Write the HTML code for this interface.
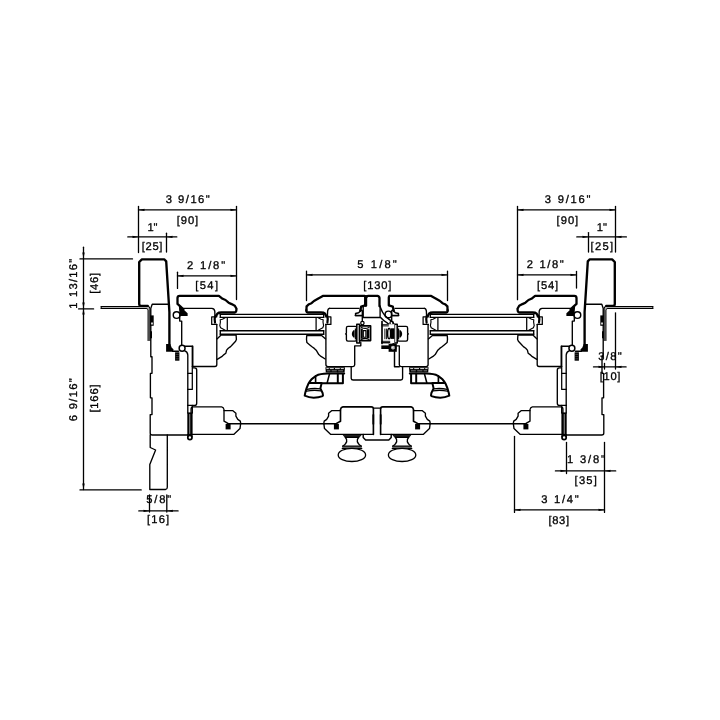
<!DOCTYPE html><html><head><meta charset="utf-8"><style>html,body{margin:0;padding:0;background:#fff;}svg{display:block;will-change:transform;} .t{text-rendering:geometricPrecision;}</style></head><body><svg width="720" height="720" viewBox="0 0 720 720" stroke-linecap="round" stroke-linejoin="round"><rect x="0" y="0" width="720" height="720" fill="#fff"/><g><path d="M 101.4 307.5 L 147 307.5 Q 149 307.6 149 309.6 L 149 340.5" stroke="#aaa" stroke-width="1.00" fill="none"/><path d="M 101.2 306.5 L 147.8 306.5 Q 149.9 306.6 149.9 308.8 L 149.9 340.5" stroke="#000" stroke-width="1.10" fill="none"/><path d="M 101.2 308.5 L 146.4 308.5 Q 148.1 308.6 148.1 310.2 L 148.1 340.5" stroke="#000" stroke-width="1.10" fill="none"/><path d="M 101.2 306.5 L 101.2 308.5" stroke="#000" stroke-width="1.10" fill="none"/><path d="M 147.8 305.9 L 141 305.9 Q 139.2 305.9 139.2 304 L 139.2 262 L 141.9 259.3 L 164.2 259.3 L 166.2 261.4 L 169.4 312 L 169.4 344.4" stroke="#000" stroke-width="2.35" fill="none"/><path d="M 168.4 304.2 L 152.2 304.2 L 150.8 308.4 L 150.8 356.7 L 152 356.7 L 152 373.3 L 150.4 373.3 L 150.4 397.8 L 152 397.8 L 152 414.6 L 150.2 414.6 L 150.2 433 Q 150.2 435 152.2 435 L 187.8 435" stroke="#000" stroke-width="1.35" fill="none"/><path d="M 150.2 315.4 L 153.7 315.4 L 153.7 325.8 L 150.2 325.8 Z" stroke="none" fill="#000"/><path d="M 151.2 322.6 L 152.8 322.6 L 152.8 324.4 L 151.2 324.4 Z" stroke="none" fill="#fff"/><path d="M 150.2 331.2 L 152 331.2 L 152 338.2 L 150.2 338.2 Z" stroke="none" fill="#000"/><path d="M 166.1 344 L 170.4 344 L 171.6 347.6 L 173.6 349.6 L 173 351.8 L 166.1 351.8 Z" stroke="none" fill="#000"/><path d="M 172.6 351.2 L 178.6 351.2" stroke="#000" stroke-width="1.35" fill="none"/><path d="M 184.4 350.6 Q 187.6 351.6 187.8 355 L 187.8 405.4" stroke="#000" stroke-width="1.35" fill="none"/><path d="M 175.1 352.3 L 179.4 352.3 L 179.4 360.7 L 175.1 360.7 Z" stroke="none" fill="#000"/><path d="M 176.1 354.4 L 178.4 354.4 M 176.1 356.6 L 178.4 356.6 M 176.1 358.8 L 178.4 358.8" stroke="#777" stroke-width="0.50" fill="none"/><path d="M 184.6 346.2 L 192.8 346.2 L 192.8 366.6" stroke="#000" stroke-width="1.35" fill="none"/><path d="M 192.8 367.9 L 194.5 367.9 Q 196.7 367.9 196.7 370.1 L 196.7 403.2 Q 196.7 405.4 194.5 405.4 L 187.8 405.4" stroke="#000" stroke-width="1.35" fill="none"/><path d="M 187.8 373.3 L 192.3 373.3 L 192.3 389.4 L 187.8 389.4" stroke="#000" stroke-width="1.25" fill="none"/><path d="M 192.3 366.6 L 192.3 373.3" stroke="#000" stroke-width="1.25" fill="none"/><path d="M 187.8 405.4 L 187.8 413 M 192.3 405.4 L 192.3 413" stroke="#000" stroke-width="1.35" fill="none"/><path d="M 187.3 412.4 L 192.6 412.4 L 192.6 437 L 187.3 437 Z" stroke="none" fill="#000"/><path d="M 189.95 414.5 L 189.95 433.5" stroke="#fff" stroke-width="0.80" fill="none"/><circle cx="189.9" cy="437.4" r="2.1" stroke="#000" stroke-width="1.75" fill="#fff"/><circle cx="176.6" cy="315.0" r="3.35" stroke="#000" stroke-width="1.45" fill="#fff"/><path d="M 183.4 309.4 L 180 306.1 L 177.5 303.9 L 177.5 298 Q 177.5 295.8 179.7 295.8 L 218.9 295.8 L 222.6 298.8 L 225.5 300 L 228.6 302.7 L 231.6 304.1 L 234.8 305.8 L 236.5 308.8 L 236.2 311.2 Q 235.8 312.5 234.8 312.5 L 221.4 312.5 Q 218.6 312.5 217.4 313.6 L 216.2 316" stroke="#000" stroke-width="2.30" fill="none"/><path d="M 178.8 305.2 L 181.5 307.6 L 187.6 313.2 L 187.6 315.9 L 179.6 315.9 Z" stroke="none" fill="#000"/><path d="M 179.7 315.8 L 179.7 321.1 L 181.7 321.1 L 181.7 344.8" stroke="#000" stroke-width="1.35" fill="none"/><path d="M 183.2 308.3 L 211.8 308.3 Q 214.6 308.5 214.8 311.4 L 214.9 314.6" stroke="#000" stroke-width="1.35" fill="none"/><path d="M 216.8 316.8 L 211.7 316.8 L 211.7 324.4 L 216.8 324.4" stroke="#000" stroke-width="1.25" fill="none"/><path d="M 215.2 315.6 Q 214.2 319 215 322.6" stroke="#000" stroke-width="2.20" fill="none"/><path d="M 216.8 324.4 L 216.8 364.6 Q 216.8 366.5 214.9 366.5 L 192.3 366.5 L 192.3 346.2" stroke="#000" stroke-width="1.35" fill="none"/><path d="M 217 338.9 L 221.1 335.1 L 236.1 335.1 L 236.4 339.5 L 235.6 341.3 L 232.8 344.2 L 230.6 346.6 L 228.3 348.2 L 226.6 350.1 L 225.8 353.3 L 224 354.6 L 221.7 356.7 L 217.2 359.3" stroke="#000" stroke-width="1.35" fill="none"/><circle cx="182.1" cy="348.3" r="2.95" stroke="#000" stroke-width="1.5" fill="#fff"/><path d="M 220.3 314.3 L 220.3 317.3 M 220.3 330.7 L 220.3 334.2" stroke="#000" stroke-width="1.35" fill="none"/><path d="M 225.6 317.6 L 222.4 319.2 L 220.2 319.8 L 220.4 322 L 219.8 325.6 L 220.6 327.8 L 223.4 329.2 L 225.6 330.4" stroke="#000" stroke-width="1.15" fill="none"/><path d="M 227.3 317.6 L 227.3 330.4" stroke="#000" stroke-width="1.25" fill="none"/><path d="M 306.4 310.2 L 306.6 306.4 L 309 304.2 L 311.5 303.2 L 314 301 L 317 299.3 L 323.3 295.8 L 364.4 295.8 Q 365.2 296.1 365.2 297.6 L 365.2 305.3 L 361.2 306.6 L 360.2 310.8" stroke="#000" stroke-width="2.30" fill="none"/><path d="M 306.4 310.2 L 306.4 311.3 Q 306.6 312.5 307.6 312.5 L 321 312.5 Q 323.8 312.5 325 313.6 L 326.2 316" stroke="#000" stroke-width="2.30" fill="none"/><path d="M 361.6 310 L 358.6 312.8 L 355.6 313.6 L 355.6 315.5 L 362.4 315.5 L 362.4 310.8" stroke="#000" stroke-width="1.55" fill="none"/><path d="M 329.6 308.3 L 359 308.3" stroke="#000" stroke-width="1.35" fill="none"/><path d="M 329.6 308.3 Q 327.8 308.5 327.6 311.4 L 327.5 314.6" stroke="#000" stroke-width="1.35" fill="none"/><path d="M 325.6 316.8 L 330.9 316.8 L 330.9 324.4 L 325.6 324.4" stroke="#000" stroke-width="1.25" fill="none"/><path d="M 327.2 315.6 Q 328.2 319 327.4 322.6" stroke="#000" stroke-width="2.20" fill="none"/><path d="M 325.9 324.4 L 325.9 364.6 Q 325.9 366.6 327.9 366.6 L 352.9 366.6 Q 354.7 366.6 354.7 364.8 L 354.7 345.8 L 360.8 345.8 L 360.8 342.4" stroke="#000" stroke-width="1.35" fill="none"/><path d="M 325.6 338.9 L 321.6 335.6 L 306.7 335.6 L 306.5 339.5 L 306.9 342.6 L 309.8 345 L 312 346.8 L 314.3 348.4 L 316.2 350.2 L 317.2 351.8 L 318.8 354.6 L 321 356.4 L 325.2 359" stroke="#000" stroke-width="1.35" fill="none"/><path d="M 355.2 315.6 L 362.3 315.6 L 362.3 321.2" stroke="#000" stroke-width="1.35" fill="none"/><circle cx="362.4" cy="323.1" r="1.7" stroke="#000" stroke-width="1.25" fill="#fff"/><path d="M 323.7 314.3 L 323.7 317.3 M 323.7 330.7 L 323.7 334.2" stroke="#000" stroke-width="1.35" fill="none"/><path d="M 317.8 317.6 L 321 319.2 L 323.2 319.8 L 323 322 L 323.6 325.6 L 322.8 327.8 L 320 329.2 L 317.8 330.4" stroke="#000" stroke-width="1.15" fill="none"/><path d="M 316.1 317.6 L 316.1 330.4" stroke="#000" stroke-width="1.25" fill="none"/><path d="M 347.9 326.4 L 355.2 326.4 Q 356.7 326.4 356.7 327.9 L 356.7 339.6 Q 356.7 341.1 355.2 341.1 L 347.9 341.1 Q 346.4 341.1 346.4 339.6 L 346.4 334.6 L 345.6 333.9 L 346.4 333.2 L 346.4 327.9 Q 346.4 326.4 347.9 326.4 Z" stroke="#000" stroke-width="1.35" fill="#fff"/><path d="M 353.4 330.2 Q 350.2 333.9 353.4 337.6 L 354.6 337.6 L 354.6 330.2 Z" stroke="none" fill="#000"/><path d="M 355.4 328.8 L 355.4 339" stroke="#000" stroke-width="1.15" fill="none"/><rect x="356.8" y="324.3" width="2.8" height="18.8" rx="0" stroke="#000" stroke-width="1.5499999999999998" fill="#fff"/><path d="M 220.2 314.3 H 323.7 M 220.2 317.3 H 323.7 M 220.2 330.7 H 323.7 M 220.2 334.2 H 323.7" stroke="#000" stroke-width="1.35" fill="none"/><path d="M 325.4 367.2 L 345 367.2 L 344.6 372.4 L 325.8 372.4 Z" stroke="none" fill="#000"/><path d="M 326.8 368.6 L 328.4 368.6 M 330.2 368.6 L 333.4 368.6 M 335.4 368.6 L 339.4 368.6 M 341.2 368.6 L 343.4 368.6" stroke="#fff" stroke-width="0.90" fill="none"/><path d="M 327.4 370.8 L 330 370.8 M 332 370.8 L 336.4 370.8 M 338.6 370.8 L 342.6 370.8" stroke="#ccc" stroke-width="0.60" fill="none"/><path d="M 344.2 373.4 L 327.6 373.6 Q 320 373.8 316 375.8 Q 311 378.6 308.4 383.8 Q 306.4 388 305.2 393 L 304.7 395.7 Q 309 397.6 313.7 397.7 Q 318.5 397.6 322.6 396.1 L 323 395.3 L 322.6 393 L 320.4 388.4 L 321.6 383.2 L 342.9 383.2 L 342.9 373.4" stroke="#000" stroke-width="2.00" fill="#fff"/><path d="M 309.4 383 L 321.6 383" stroke="#000" stroke-width="1.95" fill="none"/><path d="M 315.6 375.9 L 315.6 383" stroke="#000" stroke-width="1.65" fill="none"/><path d="M 329.6 373.6 L 327.2 382.8" stroke="#000" stroke-width="1.55" fill="none"/><path d="M 337.8 373.4 L 337.8 382.8" stroke="#000" stroke-width="1.95" fill="none"/><path d="M 306.9 389.4 Q 313 388 320.5 388.9 M 306.5 391.2 Q 313 389.8 321.2 390.8" stroke="#000" stroke-width="1.35" fill="none"/><path d="M 191.1 434.4 L 191.1 409 Q 191.1 406.9 193.2 406.9 L 221.6 406.9 Q 223.6 407.2 224 409.5 L 224 421.2 L 228 423.4" stroke="#000" stroke-width="1.35" fill="none"/><path d="M 191.1 434.4 L 233.7 434.4 L 240 428.6 L 240.4 425.6 L 240.7 423.3 L 240.3 421.1 L 237.8 419.4 L 235.9 416.1 L 235.9 413.3 L 232.6 410.6 L 224 410.6" stroke="#000" stroke-width="1.35" fill="none"/><path d="M 225.6 423.9 L 230.6 423.9 L 230.6 429.4 L 225.6 429.4 Z" stroke="none" fill="#000"/><path d="M 227.6 423.7 L 240.4 423.7" stroke="#000" stroke-width="1.35" fill="none"/><path d="M 373.40 434.40 L 373.40 409.00 Q 373.40 406.90 371.30 406.90 L 342.90 406.90 Q 340.90 407.20 340.50 409.50 L 340.50 421.20 L 336.50 423.40" stroke="#000" stroke-width="1.65" fill="none"/><path d="M 373.40 434.40 L 330.80 434.40 L 324.50 428.60 L 324.10 425.60 L 323.80 423.30 L 324.20 421.10 L 326.70 419.40 L 328.60 416.10 L 328.60 413.30 L 331.90 410.60 L 340.50 410.60" stroke="#000" stroke-width="1.35" fill="none"/><path d="M 338.90 423.90 L 333.90 423.90 L 333.90 429.40 L 338.90 429.40 Z" stroke="none" fill="#000"/><path d="M 336.90 423.70 L 324.10 423.70" stroke="#000" stroke-width="1.35" fill="none"/><path d="M 240.4 423.7 L 324.2 423.8" stroke="#000" stroke-width="1.45" fill="none"/><path d="M 187.8 434.6 L 191.1 434.6" stroke="#000" stroke-width="1.35" fill="none"/><path d="M 342.1 434.3 L 362.4 434.3 L 358.8 437.9 L 345.2 437.9 Z" stroke="none" fill="#000"/><path d="M 344.2 435.9 L 360.2 435.9" stroke="#555" stroke-width="0.60" fill="none"/><path d="M 345.4 437.6 Q 349.2 441.4 342.8 446.3 M 358.6 437.6 Q 354.8 441.4 361.2 446.3" stroke="#000" stroke-width="1.45" fill="none"/><path d="M 342.6 446 L 361.4 446 L 361.8 448.4 L 342.2 448.4 Z" stroke="none" fill="#888"/><path d="M 342.6 446.1 L 361.4 446.1 M 342.2 448.3 L 361.8 448.3" stroke="#000" stroke-width="1.25" fill="none"/><ellipse cx="351.9" cy="454.9" rx="13.7" ry="6.6" stroke="#000" stroke-width="1.3" fill="#fff"/></g><g transform="matrix(-1 0 0 1 754.00 0)"><path d="M 101.4 307.5 L 147 307.5 Q 149 307.6 149 309.6 L 149 340.5" stroke="#aaa" stroke-width="1.00" fill="none"/><path d="M 101.2 306.5 L 147.8 306.5 Q 149.9 306.6 149.9 308.8 L 149.9 340.5" stroke="#000" stroke-width="1.10" fill="none"/><path d="M 101.2 308.5 L 146.4 308.5 Q 148.1 308.6 148.1 310.2 L 148.1 340.5" stroke="#000" stroke-width="1.10" fill="none"/><path d="M 101.2 306.5 L 101.2 308.5" stroke="#000" stroke-width="1.10" fill="none"/><path d="M 147.8 305.9 L 141 305.9 Q 139.2 305.9 139.2 304 L 139.2 262 L 141.9 259.3 L 164.2 259.3 L 166.2 261.4 L 169.4 312 L 169.4 344.4" stroke="#000" stroke-width="2.35" fill="none"/><path d="M 168.4 304.2 L 152.2 304.2 L 150.8 308.4 L 150.8 356.7 L 152 356.7 L 152 373.3 L 150.4 373.3 L 150.4 397.8 L 152 397.8 L 152 414.6 L 150.2 414.6 L 150.2 433 Q 150.2 435 152.2 435 L 187.8 435" stroke="#000" stroke-width="1.35" fill="none"/><path d="M 150.2 315.4 L 153.7 315.4 L 153.7 325.8 L 150.2 325.8 Z" stroke="none" fill="#000"/><path d="M 151.2 322.6 L 152.8 322.6 L 152.8 324.4 L 151.2 324.4 Z" stroke="none" fill="#fff"/><path d="M 150.2 331.2 L 152 331.2 L 152 338.2 L 150.2 338.2 Z" stroke="none" fill="#000"/><path d="M 166.1 344 L 170.4 344 L 171.6 347.6 L 173.6 349.6 L 173 351.8 L 166.1 351.8 Z" stroke="none" fill="#000"/><path d="M 172.6 351.2 L 178.6 351.2" stroke="#000" stroke-width="1.35" fill="none"/><path d="M 184.4 350.6 Q 187.6 351.6 187.8 355 L 187.8 405.4" stroke="#000" stroke-width="1.35" fill="none"/><path d="M 175.1 352.3 L 179.4 352.3 L 179.4 360.7 L 175.1 360.7 Z" stroke="none" fill="#000"/><path d="M 176.1 354.4 L 178.4 354.4 M 176.1 356.6 L 178.4 356.6 M 176.1 358.8 L 178.4 358.8" stroke="#777" stroke-width="0.50" fill="none"/><path d="M 184.6 346.2 L 192.8 346.2 L 192.8 366.6" stroke="#000" stroke-width="1.35" fill="none"/><path d="M 192.8 367.9 L 194.5 367.9 Q 196.7 367.9 196.7 370.1 L 196.7 403.2 Q 196.7 405.4 194.5 405.4 L 187.8 405.4" stroke="#000" stroke-width="1.35" fill="none"/><path d="M 187.8 373.3 L 192.3 373.3 L 192.3 389.4 L 187.8 389.4" stroke="#000" stroke-width="1.25" fill="none"/><path d="M 192.3 366.6 L 192.3 373.3" stroke="#000" stroke-width="1.25" fill="none"/><path d="M 187.8 405.4 L 187.8 413 M 192.3 405.4 L 192.3 413" stroke="#000" stroke-width="1.35" fill="none"/><path d="M 187.3 412.4 L 192.6 412.4 L 192.6 437 L 187.3 437 Z" stroke="none" fill="#000"/><path d="M 189.95 414.5 L 189.95 433.5" stroke="#fff" stroke-width="0.80" fill="none"/><circle cx="189.9" cy="437.4" r="2.1" stroke="#000" stroke-width="1.75" fill="#fff"/><circle cx="176.6" cy="315.0" r="3.35" stroke="#000" stroke-width="1.45" fill="#fff"/><path d="M 183.4 309.4 L 180 306.1 L 177.5 303.9 L 177.5 298 Q 177.5 295.8 179.7 295.8 L 218.9 295.8 L 222.6 298.8 L 225.5 300 L 228.6 302.7 L 231.6 304.1 L 234.8 305.8 L 236.5 308.8 L 236.2 311.2 Q 235.8 312.5 234.8 312.5 L 221.4 312.5 Q 218.6 312.5 217.4 313.6 L 216.2 316" stroke="#000" stroke-width="2.30" fill="none"/><path d="M 178.8 305.2 L 181.5 307.6 L 187.6 313.2 L 187.6 315.9 L 179.6 315.9 Z" stroke="none" fill="#000"/><path d="M 179.7 315.8 L 179.7 321.1 L 181.7 321.1 L 181.7 344.8" stroke="#000" stroke-width="1.35" fill="none"/><path d="M 183.2 308.3 L 211.8 308.3 Q 214.6 308.5 214.8 311.4 L 214.9 314.6" stroke="#000" stroke-width="1.35" fill="none"/><path d="M 216.8 316.8 L 211.7 316.8 L 211.7 324.4 L 216.8 324.4" stroke="#000" stroke-width="1.25" fill="none"/><path d="M 215.2 315.6 Q 214.2 319 215 322.6" stroke="#000" stroke-width="2.20" fill="none"/><path d="M 216.8 324.4 L 216.8 364.6 Q 216.8 366.5 214.9 366.5 L 192.3 366.5 L 192.3 346.2" stroke="#000" stroke-width="1.35" fill="none"/><path d="M 217 338.9 L 221.1 335.1 L 236.1 335.1 L 236.4 339.5 L 235.6 341.3 L 232.8 344.2 L 230.6 346.6 L 228.3 348.2 L 226.6 350.1 L 225.8 353.3 L 224 354.6 L 221.7 356.7 L 217.2 359.3" stroke="#000" stroke-width="1.35" fill="none"/><circle cx="182.1" cy="348.3" r="2.95" stroke="#000" stroke-width="1.5" fill="#fff"/><path d="M 220.3 314.3 L 220.3 317.3 M 220.3 330.7 L 220.3 334.2" stroke="#000" stroke-width="1.35" fill="none"/><path d="M 225.6 317.6 L 222.4 319.2 L 220.2 319.8 L 220.4 322 L 219.8 325.6 L 220.6 327.8 L 223.4 329.2 L 225.6 330.4" stroke="#000" stroke-width="1.15" fill="none"/><path d="M 227.3 317.6 L 227.3 330.4" stroke="#000" stroke-width="1.25" fill="none"/><path d="M 306.4 310.2 L 306.6 306.4 L 309 304.2 L 311.5 303.2 L 314 301 L 317 299.3 L 323.3 295.8 L 364.4 295.8 Q 365.2 296.1 365.2 297.6 L 365.2 305.3 L 361.2 306.6 L 360.2 310.8" stroke="#000" stroke-width="2.30" fill="none"/><path d="M 306.4 310.2 L 306.4 311.3 Q 306.6 312.5 307.6 312.5 L 321 312.5 Q 323.8 312.5 325 313.6 L 326.2 316" stroke="#000" stroke-width="2.30" fill="none"/><path d="M 361.6 310 L 358.6 312.8 L 355.6 313.6 L 355.6 315.5 L 362.4 315.5 L 362.4 310.8" stroke="#000" stroke-width="1.55" fill="none"/><path d="M 329.6 308.3 L 359 308.3" stroke="#000" stroke-width="1.35" fill="none"/><path d="M 329.6 308.3 Q 327.8 308.5 327.6 311.4 L 327.5 314.6" stroke="#000" stroke-width="1.35" fill="none"/><path d="M 325.6 316.8 L 330.9 316.8 L 330.9 324.4 L 325.6 324.4" stroke="#000" stroke-width="1.25" fill="none"/><path d="M 327.2 315.6 Q 328.2 319 327.4 322.6" stroke="#000" stroke-width="2.20" fill="none"/><path d="M 325.9 324.4 L 325.9 364.6 Q 325.9 366.6 327.9 366.6 L 352.9 366.6 Q 354.7 366.6 354.7 364.8 L 354.7 345.8 L 360.8 345.8 L 360.8 342.4" stroke="#000" stroke-width="1.35" fill="none"/><path d="M 325.6 338.9 L 321.6 335.6 L 306.7 335.6 L 306.5 339.5 L 306.9 342.6 L 309.8 345 L 312 346.8 L 314.3 348.4 L 316.2 350.2 L 317.2 351.8 L 318.8 354.6 L 321 356.4 L 325.2 359" stroke="#000" stroke-width="1.35" fill="none"/><path d="M 355.2 315.6 L 362.3 315.6 L 362.3 321.2" stroke="#000" stroke-width="1.35" fill="none"/><circle cx="362.4" cy="323.1" r="1.7" stroke="#000" stroke-width="1.25" fill="#fff"/><path d="M 323.7 314.3 L 323.7 317.3 M 323.7 330.7 L 323.7 334.2" stroke="#000" stroke-width="1.35" fill="none"/><path d="M 317.8 317.6 L 321 319.2 L 323.2 319.8 L 323 322 L 323.6 325.6 L 322.8 327.8 L 320 329.2 L 317.8 330.4" stroke="#000" stroke-width="1.15" fill="none"/><path d="M 316.1 317.6 L 316.1 330.4" stroke="#000" stroke-width="1.25" fill="none"/><path d="M 347.9 326.4 L 355.2 326.4 Q 356.7 326.4 356.7 327.9 L 356.7 339.6 Q 356.7 341.1 355.2 341.1 L 347.9 341.1 Q 346.4 341.1 346.4 339.6 L 346.4 334.6 L 345.6 333.9 L 346.4 333.2 L 346.4 327.9 Q 346.4 326.4 347.9 326.4 Z" stroke="#000" stroke-width="1.35" fill="#fff"/><path d="M 353.4 330.2 Q 350.2 333.9 353.4 337.6 L 354.6 337.6 L 354.6 330.2 Z" stroke="none" fill="#000"/><path d="M 355.4 328.8 L 355.4 339" stroke="#000" stroke-width="1.15" fill="none"/><rect x="356.8" y="324.3" width="2.8" height="18.8" rx="0" stroke="#000" stroke-width="1.5499999999999998" fill="#fff"/><path d="M 220.2 314.3 H 323.7 M 220.2 317.3 H 323.7 M 220.2 330.7 H 323.7 M 220.2 334.2 H 323.7" stroke="#000" stroke-width="1.35" fill="none"/><path d="M 325.4 367.2 L 345 367.2 L 344.6 372.4 L 325.8 372.4 Z" stroke="none" fill="#000"/><path d="M 326.8 368.6 L 328.4 368.6 M 330.2 368.6 L 333.4 368.6 M 335.4 368.6 L 339.4 368.6 M 341.2 368.6 L 343.4 368.6" stroke="#fff" stroke-width="0.90" fill="none"/><path d="M 327.4 370.8 L 330 370.8 M 332 370.8 L 336.4 370.8 M 338.6 370.8 L 342.6 370.8" stroke="#ccc" stroke-width="0.60" fill="none"/><path d="M 344.2 373.4 L 327.6 373.6 Q 320 373.8 316 375.8 Q 311 378.6 308.4 383.8 Q 306.4 388 305.2 393 L 304.7 395.7 Q 309 397.6 313.7 397.7 Q 318.5 397.6 322.6 396.1 L 323 395.3 L 322.6 393 L 320.4 388.4 L 321.6 383.2 L 342.9 383.2 L 342.9 373.4" stroke="#000" stroke-width="2.00" fill="#fff"/><path d="M 309.4 383 L 321.6 383" stroke="#000" stroke-width="1.95" fill="none"/><path d="M 315.6 375.9 L 315.6 383" stroke="#000" stroke-width="1.65" fill="none"/><path d="M 329.6 373.6 L 327.2 382.8" stroke="#000" stroke-width="1.55" fill="none"/><path d="M 337.8 373.4 L 337.8 382.8" stroke="#000" stroke-width="1.95" fill="none"/><path d="M 306.9 389.4 Q 313 388 320.5 388.9 M 306.5 391.2 Q 313 389.8 321.2 390.8" stroke="#000" stroke-width="1.35" fill="none"/><path d="M 191.1 434.4 L 191.1 409 Q 191.1 406.9 193.2 406.9 L 221.6 406.9 Q 223.6 407.2 224 409.5 L 224 421.2 L 228 423.4" stroke="#000" stroke-width="1.35" fill="none"/><path d="M 191.1 434.4 L 233.7 434.4 L 240 428.6 L 240.4 425.6 L 240.7 423.3 L 240.3 421.1 L 237.8 419.4 L 235.9 416.1 L 235.9 413.3 L 232.6 410.6 L 224 410.6" stroke="#000" stroke-width="1.35" fill="none"/><path d="M 225.6 423.9 L 230.6 423.9 L 230.6 429.4 L 225.6 429.4 Z" stroke="none" fill="#000"/><path d="M 227.6 423.7 L 240.4 423.7" stroke="#000" stroke-width="1.35" fill="none"/><path d="M 373.40 434.40 L 373.40 409.00 Q 373.40 406.90 371.30 406.90 L 342.90 406.90 Q 340.90 407.20 340.50 409.50 L 340.50 421.20 L 336.50 423.40" stroke="#000" stroke-width="1.65" fill="none"/><path d="M 373.40 434.40 L 330.80 434.40 L 324.50 428.60 L 324.10 425.60 L 323.80 423.30 L 324.20 421.10 L 326.70 419.40 L 328.60 416.10 L 328.60 413.30 L 331.90 410.60 L 340.50 410.60" stroke="#000" stroke-width="1.35" fill="none"/><path d="M 338.90 423.90 L 333.90 423.90 L 333.90 429.40 L 338.90 429.40 Z" stroke="none" fill="#000"/><path d="M 336.90 423.70 L 324.10 423.70" stroke="#000" stroke-width="1.35" fill="none"/><path d="M 240.4 423.7 L 324.2 423.8" stroke="#000" stroke-width="1.45" fill="none"/><path d="M 187.8 434.6 L 191.1 434.6" stroke="#000" stroke-width="1.35" fill="none"/><path d="M 342.1 434.3 L 362.4 434.3 L 358.8 437.9 L 345.2 437.9 Z" stroke="none" fill="#000"/><path d="M 344.2 435.9 L 360.2 435.9" stroke="#555" stroke-width="0.60" fill="none"/><path d="M 345.4 437.6 Q 349.2 441.4 342.8 446.3 M 358.6 437.6 Q 354.8 441.4 361.2 446.3" stroke="#000" stroke-width="1.45" fill="none"/><path d="M 342.6 446 L 361.4 446 L 361.8 448.4 L 342.2 448.4 Z" stroke="none" fill="#888"/><path d="M 342.6 446.1 L 361.4 446.1 M 342.2 448.3 L 361.8 448.3" stroke="#000" stroke-width="1.25" fill="none"/><ellipse cx="351.9" cy="454.9" rx="13.7" ry="6.6" stroke="#000" stroke-width="1.3" fill="#fff"/></g><path d="M 150.2 435 L 150.2 447.5 L 155.6 450 L 149.8 464.4 L 149.8 489.5 L 165.4 489.5 Q 167.3 489.3 167.3 487.2 L 167.3 435" stroke="#000" stroke-width="1.35" fill="none"/><path d="M 366.6 297 Q 366.8 295.8 368 295.8 L 377.6 295.8 Q 379.5 296.2 379.5 298.2 L 379.5 306.2" stroke="#000" stroke-width="2.30" fill="none"/><path d="M 365.9 296.4 L 365.9 305.6" stroke="#000" stroke-width="2.60" fill="none"/><path d="M 363.2 305.8 L 363.2 317.5 L 380.1 317.5 L 380.1 306" stroke="#000" stroke-width="1.35" fill="none"/><circle cx="388.4" cy="314.4" r="3.3" stroke="#000" stroke-width="1.45" fill="none"/><path d="M 380 306.4 Q 382 312.4 385.6 316.4 Q 389 319.6 392.6 321.8 L 394.4 325.4" stroke="#000" stroke-width="1.45" fill="none"/><path d="M 380.6 317.6 Q 383.6 321 386.8 322.6 Q 389.8 324.6 391.4 327" stroke="#000" stroke-width="1.45" fill="none"/><path d="M 381.3 345.4 L 389 345.4 L 389 349 L 381.3 349 Z" stroke="none" fill="#000"/><path d="M 381.3 341.6 L 389 341.6 L 389 343.4 L 381.3 343.4 Z" stroke="none" fill="#000"/><path d="M 388.6 343.6 L 396.8 343.6 L 396.8 351.8 L 388.6 351.8 Z" stroke="none" fill="#000"/><circle cx="393" cy="347.6" r="2.7" stroke="#000" stroke-width="1.65" fill="#fff"/><circle cx="393" cy="347.6" r="1.2" stroke="#000" stroke-width="0.25" fill="#fff"/><path d="M 394.5 351.6 L 394.5 366.8 L 399.3 366.8" stroke="#000" stroke-width="1.45" fill="none"/><rect x="359.6" y="325.9" width="11.0" height="14.7" rx="0" stroke="#000" stroke-width="1.65" fill="#fff"/><path d="M 360.8 328.6 L 362.8 328.6 L 362.8 338.8 L 360.8 338.8 Z" stroke="none" fill="#000"/><path d="M 366.6 329.2 L 369.4 329.2 L 369.4 338.2 L 366.6 338.2 Z" stroke="none" fill="#000"/><path d="M 361.5 327.4 Q 365 329.4 369 327.4 M 361.5 339.4 Q 365 337.4 369 339.4" stroke="#000" stroke-width="1.15" fill="none"/><rect x="363.3" y="330.6" width="2.6" height="6.6" rx="0" stroke="#000" stroke-width="1.15" fill="none"/><path d="M 382.6 324.2 L 394.4 324.2 L 394.4 343 L 382.6 343 Z" stroke="none" fill="#fff"/><path d="M 382 321.6 L 382 343.6" stroke="#000" stroke-width="1.65" fill="none"/><path d="M 382 324.7 L 388.4 324.7 M 382 325.9 L 388.4 325.9 M 382 341.3 L 389.8 341.3 M 382 342.5 L 389.8 342.5" stroke="#000" stroke-width="0.95" fill="none"/><path d="M 384.9 329 L 384.9 338.8 M 386.6 329 L 386.6 338.8" stroke="#000" stroke-width="0.95" fill="none"/><ellipse cx="389.1" cy="333.6" rx="1.5" ry="5.2" stroke="#000" stroke-width="1.5" fill="#fff"/><path d="M 390.6 328.3 L 394.4 328.3 L 394.4 338.9 L 390.6 338.9 Z" stroke="none" fill="#000"/><path d="M 351.2 366.7 L 351.2 378.3 Q 351.4 380 353.1 380 L 400.8 380 Q 402.6 380 402.6 378.3 L 402.6 366.7" stroke="#000" stroke-width="1.35" fill="none"/><path d="M 363.2 434.4 L 363.2 437.4 L 365.6 440 L 388.8 440 L 391.2 437.4 L 391.2 434.4" stroke="#000" stroke-width="1.45" fill="none"/><path d="M 374 408.2 L 380.8 408.2" stroke="#000" stroke-width="1.25" fill="none"/><path d="M 372.4 414.4 L 374.2 414.4 L 374.2 424.4 L 372.4 424.4 Z" stroke="none" fill="#000"/><path d="M 379.8 414.4 L 381.6 414.4 L 381.6 424.4 L 379.8 424.4 Z" stroke="none" fill="#000"/><line x1="138.5" y1="209.9" x2="236.5" y2="209.9" stroke="#000" stroke-width="1.3"/><polygon points="138.50,209.90 144.50,208.70 144.50,211.10" stroke="none" fill="#000"/><polygon points="236.50,209.90 230.50,208.70 230.50,211.10" stroke="none" fill="#000"/><line x1="138.5" y1="206.5" x2="138.5" y2="252.5" stroke="#000" stroke-width="1.3"/><line x1="236.5" y1="206.5" x2="236.5" y2="299.5" stroke="#000" stroke-width="1.3"/><line x1="127.8" y1="236.9" x2="176.8" y2="236.9" stroke="#000" stroke-width="1.3"/><polygon points="138.50,236.90 132.50,235.70 132.50,238.10" stroke="none" fill="#000"/><polygon points="166.50,236.90 172.50,235.70 172.50,238.10" stroke="none" fill="#000"/><line x1="166.5" y1="233.2" x2="166.5" y2="252" stroke="#000" stroke-width="1.3"/><line x1="177.5" y1="275.9" x2="236.5" y2="275.9" stroke="#000" stroke-width="1.3"/><polygon points="177.50,275.90 183.50,274.70 183.50,277.10" stroke="none" fill="#000"/><polygon points="236.50,275.90 230.50,274.70 230.50,277.10" stroke="none" fill="#000"/><line x1="177.5" y1="272.2" x2="177.5" y2="288.4" stroke="#000" stroke-width="1.3"/><line x1="83.5" y1="247.2" x2="83.5" y2="489.5" stroke="#000" stroke-width="1.3"/><line x1="80" y1="258.9" x2="132.5" y2="258.9" stroke="#000" stroke-width="1.3"/><line x1="78.6" y1="308.9" x2="93.6" y2="308.9" stroke="#000" stroke-width="1.3"/><line x1="80" y1="489.9" x2="141.2" y2="489.9" stroke="#000" stroke-width="1.3"/><polygon points="83.50,258.50 82.30,252.50 84.70,252.50" stroke="none" fill="#000"/><polygon points="83.50,308.50 82.30,314.50 84.70,314.50" stroke="none" fill="#000"/><polygon points="83.50,308.50 82.30,302.50 84.70,302.50" stroke="none" fill="#000"/><polygon points="83.50,489.50 82.30,483.50 84.70,483.50" stroke="none" fill="#000"/><line x1="138.8" y1="510.9" x2="178.1" y2="510.9" stroke="#000" stroke-width="1.3"/><polygon points="149.50,510.90 143.50,509.70 143.50,512.10" stroke="none" fill="#000"/><polygon points="166.80,510.90 172.80,509.70 172.80,512.10" stroke="none" fill="#000"/><line x1="149.5" y1="495" x2="149.5" y2="512" stroke="#000" stroke-width="1.3"/><line x1="166.8" y1="495" x2="166.8" y2="512" stroke="#000" stroke-width="1.3"/><line x1="306.5" y1="274.9" x2="447.5" y2="274.9" stroke="#000" stroke-width="1.3"/><polygon points="306.50,274.90 312.50,273.70 312.50,276.10" stroke="none" fill="#000"/><polygon points="447.50,274.90 441.50,273.70 441.50,276.10" stroke="none" fill="#000"/><line x1="306.5" y1="271.1" x2="306.5" y2="300.6" stroke="#000" stroke-width="1.3"/><line x1="447.5" y1="271.1" x2="447.5" y2="300.6" stroke="#000" stroke-width="1.3"/><line x1="517.5" y1="209.9" x2="615.5" y2="209.9" stroke="#000" stroke-width="1.3"/><polygon points="517.50,209.90 523.50,208.70 523.50,211.10" stroke="none" fill="#000"/><polygon points="615.50,209.90 609.50,208.70 609.50,211.10" stroke="none" fill="#000"/><line x1="517.5" y1="206.4" x2="517.5" y2="299.7" stroke="#000" stroke-width="1.3"/><line x1="615.5" y1="206.4" x2="615.5" y2="252" stroke="#000" stroke-width="1.3"/><line x1="576.8" y1="236.9" x2="626.4" y2="236.9" stroke="#000" stroke-width="1.3"/><polygon points="588.50,236.90 582.50,235.70 582.50,238.10" stroke="none" fill="#000"/><polygon points="615.50,236.90 621.50,235.70 621.50,238.10" stroke="none" fill="#000"/><line x1="588.5" y1="232.6" x2="588.5" y2="252" stroke="#000" stroke-width="1.3"/><line x1="517.5" y1="274.9" x2="576.5" y2="274.9" stroke="#000" stroke-width="1.3"/><polygon points="517.50,274.90 523.50,273.70 523.50,276.10" stroke="none" fill="#000"/><polygon points="576.50,274.90 570.50,273.70 570.50,276.10" stroke="none" fill="#000"/><line x1="576.5" y1="271.5" x2="576.5" y2="288" stroke="#000" stroke-width="1.3"/><line x1="593.5" y1="366.9" x2="626.1" y2="366.9" stroke="#000" stroke-width="1.3"/><polygon points="604.50,366.90 598.50,365.70 598.50,368.10" stroke="none" fill="#000"/><polygon points="615.50,366.90 621.50,365.70 621.50,368.10" stroke="none" fill="#000"/><line x1="615.5" y1="312.8" x2="615.5" y2="369" stroke="#000" stroke-width="1.3"/><line x1="604.5" y1="363.4" x2="604.5" y2="369" stroke="#000" stroke-width="1.3"/><line x1="555.4" y1="470.9" x2="615.7" y2="470.9" stroke="#000" stroke-width="1.3"/><polygon points="566.50,470.90 560.50,469.70 560.50,472.10" stroke="none" fill="#000"/><polygon points="604.50,470.90 610.50,469.70 610.50,472.10" stroke="none" fill="#000"/><line x1="566.5" y1="442.4" x2="566.5" y2="473.5" stroke="#000" stroke-width="1.3"/><line x1="604.5" y1="442.4" x2="604.5" y2="512.4" stroke="#000" stroke-width="1.3"/><line x1="514.5" y1="509.9" x2="604.5" y2="509.9" stroke="#000" stroke-width="1.3"/><polygon points="514.50,509.90 520.50,508.70 520.50,511.10" stroke="none" fill="#000"/><polygon points="604.50,509.90 598.50,508.70 598.50,511.10" stroke="none" fill="#000"/><line x1="514.5" y1="436.5" x2="514.5" y2="512.4" stroke="#000" stroke-width="1.3"/><g class="t" fill="#000" stroke="#000" stroke-width="0.3" font-family="Liberation Sans, sans-serif"><text x="165.80" y="202.70" font-size="11.2" textLength="44.00" lengthAdjust="spacing">3 9/16&quot;</text><text x="176.80" y="223.90" font-size="11.2" textLength="21.40" lengthAdjust="spacing">[90]</text><text x="147.60" y="231.30" font-size="11.2" textLength="9.80" lengthAdjust="spacing">1&quot;</text><text x="141.80" y="250.30" font-size="11.2" textLength="20.60" lengthAdjust="spacing">[25]</text><text x="187.00" y="268.50" font-size="11.2" textLength="38.20" lengthAdjust="spacing">2 1/8&quot;</text><text x="195.20" y="288.90" font-size="11.2" textLength="22.80" lengthAdjust="spacing">[54]</text><text transform="translate(76.50,308.80) rotate(-90)" x="0" y="0" font-size="11.2" textLength="50.00" lengthAdjust="spacing">1 13/16&quot;</text><text transform="translate(98.00,293.80) rotate(-90)" x="0" y="0" font-size="11.2" textLength="20.80" lengthAdjust="spacing">[46]</text><text transform="translate(76.90,421.20) rotate(-90)" x="0" y="0" font-size="11.2" textLength="43.00" lengthAdjust="spacing">6 9/16&quot;</text><text transform="translate(98.00,412.60) rotate(-90)" x="0" y="0" font-size="11.2" textLength="28.20" lengthAdjust="spacing">[166]</text><text x="146.20" y="502.70" font-size="11.2" textLength="25.00" lengthAdjust="spacing">5/8&quot;</text><text x="147.00" y="522.90" font-size="11.2" textLength="22.20" lengthAdjust="spacing">[16]</text><text x="357.20" y="268.40" font-size="11.2" textLength="39.60" lengthAdjust="spacing">5 1/8&quot;</text><text x="363.20" y="288.50" font-size="11.2" textLength="28.20" lengthAdjust="spacing">[130]</text><text x="544.80" y="202.90" font-size="11.2" textLength="45.80" lengthAdjust="spacing">3 9/16&quot;</text><text x="556.60" y="223.90" font-size="11.2" textLength="21.60" lengthAdjust="spacing">[90]</text><text x="596.80" y="231.20" font-size="11.2" textLength="10.20" lengthAdjust="spacing">1&quot;</text><text x="590.60" y="249.50" font-size="11.2" textLength="22.60" lengthAdjust="spacing">[25]</text><text x="526.80" y="268.10" font-size="11.2" textLength="37.00" lengthAdjust="spacing">2 1/8&quot;</text><text x="537.00" y="288.50" font-size="11.2" textLength="21.20" lengthAdjust="spacing">[54]</text><text x="598.20" y="359.50" font-size="11.2" textLength="23.60" lengthAdjust="spacing">3/8&quot;</text><text x="599.80" y="380.30" font-size="11.2" textLength="20.60" lengthAdjust="spacing">[10]</text><text x="567.00" y="463.20" font-size="11.2" textLength="38.00" lengthAdjust="spacing">1 3/8&quot;</text><text x="574.60" y="483.50" font-size="11.2" textLength="22.20" lengthAdjust="spacing">[35]</text><text x="541.20" y="503.10" font-size="11.2" textLength="37.60" lengthAdjust="spacing">3 1/4&quot;</text><text x="548.40" y="523.50" font-size="11.2" textLength="20.60" lengthAdjust="spacing">[83]</text></g></svg></body></html>
